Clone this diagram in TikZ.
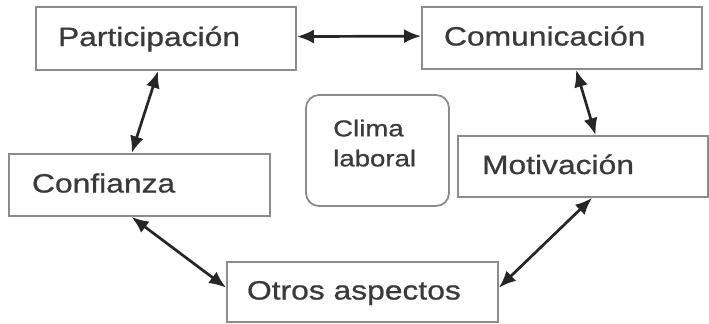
\documentclass[tikz,border=0pt]{standalone}
\usepackage{fontspec}
\setmainfont[FakeStretch=1.2,FakeBold=0.8]{Liberation Sans}
\usetikzlibrary{arrows.meta,calc}
\definecolor{boxgray}{HTML}{8C8C8C}
\definecolor{txtcol}{HTML}{3A3A3A}
\definecolor{arrcol}{HTML}{262626}
\tikzset{
  box/.style={draw=boxgray, line width=1.8bp, rectangle, inner ysep=0pt,
    align=left, text=txtcol, font=\fontsize{26.5bp}{30bp}\selectfont,
    text height=19bp, text depth=4bp},
  con/.style={draw=arrcol, line width=2.7bp, {Latex[length=17bp,width=14bp]}-{Latex[length=17bp,width=14bp]}}
}
\begin{document}
\begin{tikzpicture}[x=1bp,y=-1bp]
\useasboundingbox (0,0) rectangle (709,323);
\node[box, minimum width=260bp, minimum height=63bp, inner xsep=22bp, text width=216bp] (part) at (166,38.5) {Participación};
\node[box, minimum width=280bp, minimum height=62bp, inner xsep=22bp, text width=236bp] (comm) at (562,38) {Comunicación};
\node[box, minimum width=250bp, minimum height=61bp, inner xsep=24bp, text width=202bp] (moti) at (583,166.5) {Motivación};
\node[box, minimum width=261bp, minimum height=62bp, inner xsep=23bp, text width=215bp] (conf) at (139.5,185) {Confianza};
\node[box, minimum width=271bp, minimum height=60bp, inner xsep=20bp, text width=231bp] (otros) at (362.5,292) {Otros aspectos};
\node[draw=boxgray, line width=1.8bp, rounded corners=13bp, minimum width=143bp, minimum height=111bp, inner sep=0pt] (clima) at (377.5,150.5) {};
\node[anchor=north west, inner sep=0pt, align=left, text=txtcol, font=\fontsize{23bp}{30bp}\selectfont] (climatxt) at (333,119.5) {Clima\\laboral};
\draw[con] ($(part.north east)!0.47!(part.south east)$) -- ($(comm.north west)!0.47!(comm.south west)$);
\draw[con] ($(part.south west)!0.47!(part.south east)$) -- ($(conf.north west)!0.47!(conf.north east)$);
\draw[con] ($(comm.south west)!0.55!(comm.south east)$) -- ($(moti.north west)!0.55!(moti.north east)$);
\draw[con] ($(conf.south west)!0.47!(conf.south east)$) -- ($(otros.north west)!0.43!(otros.south west)$);
\draw[con] ($(moti.south west)!0.536!(moti.south east)$) -- ($(otros.north east)!0.43!(otros.south east)$);
\end{tikzpicture}
\end{document}
